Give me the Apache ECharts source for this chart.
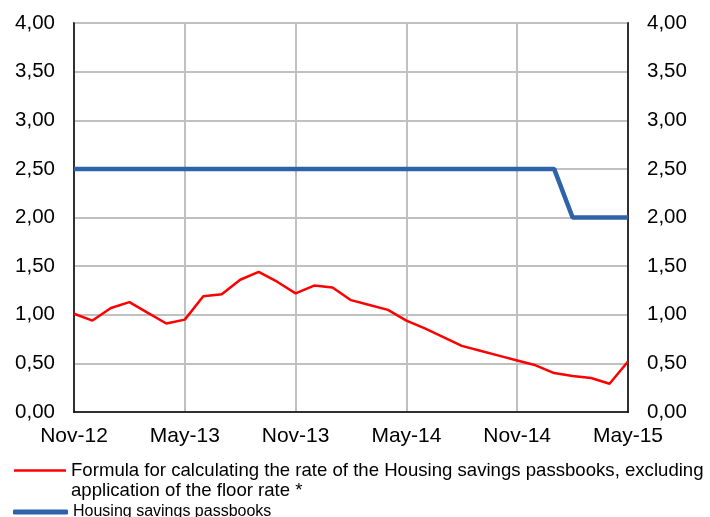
<!DOCTYPE html>
<html>
<head>
<meta charset="utf-8">
<script src="https://cdn.jsdelivr.net/npm/echarts@6/dist/echarts.min.js"></script>
<style>
    html,body{margin:0;padding:0;background:#fff;}
    #chart{width:710px;height:517px;}
</style>
</head>
<body>
<div id="chart"></div>
<script>
// months Nov-12 .. May-15
const months = ["Nov-12","Dec-12","Jan-13","Feb-13","Mar-13","Apr-13","May-13","Jun-13","Jul-13","Aug-13","Sep-13","Oct-13",
    "Nov-13","Dec-13","Jan-14","Feb-14","Mar-14","Apr-14","May-14","Jun-14","Jul-14","Aug-14","Sep-14","Oct-14",
    "Nov-14","Dec-14","Jan-15","Feb-15","Mar-15","Apr-15","May-15"]

// formula rate, excluding floor
const formulaRate = [1.01,0.94,1.07,1.13,1.02,0.91,0.95,1.19,1.21,1.36,1.44,1.34,
    1.22,1.30,1.28,1.15,1.10,1.05,0.94,0.86,0.77,0.68,0.63,0.58,
    0.53,0.48,0.40,0.37,0.35,0.29,0.52]

// housing savings passbook rate
const passbookRate = [2.5,2.5,2.5,2.5,2.5,2.5,2.5,2.5,2.5,2.5,2.5,2.5,
    2.5,2.5,2.5,2.5,2.5,2.5,2.5,2.5,2.5,2.5,2.5,2.5,
    2.5,2.5,2.5,2.0,2.0,2.0,2.0]

const seriesNames = ["Formula for calculating the rate of the Housing savings passbooks, excluding","Housing savings passbooks"]
const noteLine = "application of the floor rate *"

const font = "Liberation Sans, Arial, sans-serif"
const fmt = v => v.toFixed(2).replace(".", ",")

const yAxisBase = {
    type:"value",
    min:0,
    max:4,
    interval:0.5,
    axisLine:{show:true,lineStyle:{color:"#000",width:1.5}},
    axisTick:{show:false},
    axisLabel:{formatter:fmt,color:"#000",fontSize:20.5,fontFamily:font,margin:19}
}

const myChart = echarts.init(document.getElementById("chart"))
myChart.setOption({
    animation:false,
    grid:{left:74,right:82,top:23,bottom:105,show:true,borderColor:"#000",borderWidth:1.5},
    xAxis:{
        type:"category",
        data:months,
        boundaryGap:false,
        axisLine:{lineStyle:{color:"#000",width:1.5}},
        axisTick:{show:false},
        axisLabel:{interval:5,color:"#000",fontSize:21,fontFamily:font,margin:14},
        splitLine:{show:true,interval:5,lineStyle:{color:"#c0c0c0",width:2}}
    },
    yAxis:[
        {...yAxisBase,position:"left",splitLine:{lineStyle:{color:"#c0c0c0",width:2}}},
        {...yAxisBase,position:"right",splitLine:{show:false}}
    ],
    legend:[
        {
            data:[seriesNames[0]],
            left:14,top:461,padding:0,
            icon:"rect",itemWidth:52,itemHeight:2.5,
            textStyle:{color:"#000",fontSize:18.6,fontFamily:font}
        },
        {
            data:[seriesNames[1]],
            left:13,top:504,padding:0,
            icon:"roundRect",itemWidth:55,itemHeight:5,
            textStyle:{color:"#000",fontSize:16,fontFamily:font}
        }
    ],
    graphic:[{
        type:"text",left:71,top:481,
        style:{text:noteLine,fill:"#000",fontSize:18.6,fontFamily:font}
    }],
    series:[
        {
            name:seriesNames[0],type:"line",data:formulaRate,
            symbol:"none",itemStyle:{color:"#ff0000"},lineStyle:{color:"#ff0000",width:2.5},z:3
        },
        {
            name:seriesNames[1],type:"line",data:passbookRate,
            symbol:"none",itemStyle:{color:"#2e63a9"},lineStyle:{color:"#2e63a9",width:4.5},z:2
        }
    ]
})
</script>
</body>
</html>
